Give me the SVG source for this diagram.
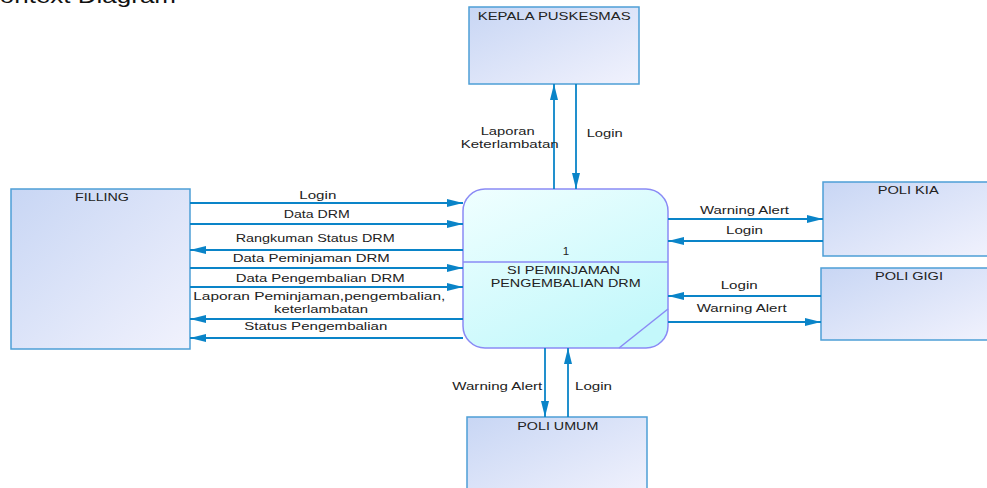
<svg xmlns="http://www.w3.org/2000/svg" width="987" height="488" viewBox="0 0 987 488">
<defs>
<linearGradient id="gEnt" x1="0" y1="0" x2="1" y2="1">
<stop offset="0" stop-color="#c8d6f4"/>
<stop offset="1" stop-color="#f1f2fd"/>
</linearGradient>
<linearGradient id="gProc" x1="0" y1="0" x2="0.6" y2="1">
<stop offset="0" stop-color="#f0ffff"/>
<stop offset="1" stop-color="#c4f8fb"/>
</linearGradient>
<marker id="arr" viewBox="0 0 16 8" refX="16" refY="4" markerWidth="16" markerHeight="8" orient="auto" markerUnits="userSpaceOnUse">
<path d="M0,0 L16,4 L0,8 Z" fill="#0a84c8"/>
</marker>
</defs>
<style>
.ent{fill:url(#gEnt);stroke:#4d9fd6;stroke-width:1.5}
.proc{fill:url(#gProc);stroke:#8a8af5;stroke-width:1.5}
.pl{stroke:#8a8af5;stroke-width:1.5;fill:none}
.c{stroke:#0a84c8;stroke-width:1.8;fill:none;marker-end:url(#arr)}
text{font-family:"Liberation Sans",Arial,sans-serif;font-size:11.5px;fill:#222}
.t{font-size:20px;fill:#111}
</style>
<text class="t" x="-19" y="3" textLength="195" lengthAdjust="spacingAndGlyphs">Context Diagram</text>

<g id="kepala">
<rect class="ent" x="469" y="7" width="170" height="77"/>
<text x="477.7" y="20" textLength="153" lengthAdjust="spacingAndGlyphs">KEPALA PUSKESMAS</text>
</g>
<g id="filling">
<rect class="ent" x="11" y="189" width="179" height="160"/>
<text x="75" y="201" textLength="54" lengthAdjust="spacingAndGlyphs">FILLING</text>
</g>
<g id="poli-kia">
<rect class="ent" x="823" y="182" width="170" height="74"/>
<text x="877.7" y="194" textLength="61" lengthAdjust="spacingAndGlyphs">POLI KIA</text>
</g>
<g id="poli-gigi">
<rect class="ent" x="821" y="268" width="170" height="72"/>
<text x="875" y="280" textLength="68" lengthAdjust="spacingAndGlyphs">POLI GIGI</text>
</g>
<g id="poli-umum">
<rect class="ent" x="467" y="417" width="180" height="80"/>
<text x="517.3" y="430" textLength="81" lengthAdjust="spacingAndGlyphs">POLI UMUM</text>
</g>
<g id="process">
<rect class="proc" x="463" y="189" width="205" height="159" rx="22" ry="22"/>
<line class="pl" x1="463" y1="262" x2="668" y2="262"/>
<line class="pl" x1="619" y1="348" x2="668" y2="309"/>
<text x="566" y="255" text-anchor="middle">1</text>
<text x="507" y="274" textLength="113" lengthAdjust="spacingAndGlyphs">SI PEMINJAMAN</text>
<text x="490.7" y="287" textLength="150" lengthAdjust="spacingAndGlyphs">PENGEMBALIAN DRM</text>
</g>

<g id="connectors">
<line class="c" x1="190" y1="203" x2="463" y2="203"/>
<line class="c" x1="190" y1="224" x2="463" y2="224"/>
<line class="c" x1="463" y1="250" x2="190" y2="250"/>
<line class="c" x1="190" y1="268" x2="463" y2="268"/>
<line class="c" x1="190" y1="287" x2="463" y2="287"/>
<line class="c" x1="463" y1="319" x2="190" y2="319"/>
<line class="c" x1="463" y1="338" x2="190" y2="338"/>
<line class="c" x1="554" y1="189" x2="554" y2="84"/>
<line class="c" x1="576" y1="84" x2="576" y2="189"/>
<line class="c" x1="668" y1="219" x2="823" y2="219"/>
<line class="c" x1="823" y1="241" x2="668" y2="241"/>
<line class="c" x1="821" y1="296" x2="668" y2="296"/>
<line class="c" x1="668" y1="322" x2="821" y2="322"/>
<line class="c" x1="545" y1="348" x2="545" y2="417"/>
<line class="c" x1="568" y1="417" x2="568" y2="348"/>
</g>
<g id="connector-labels">
<text x="299.3" y="199" textLength="37" lengthAdjust="spacingAndGlyphs">Login</text>
<text x="283.7" y="218" textLength="66" lengthAdjust="spacingAndGlyphs">Data DRM</text>
<text x="235.7" y="242" textLength="159" lengthAdjust="spacingAndGlyphs">Rangkuman Status DRM</text>
<text x="232.7" y="262" textLength="157" lengthAdjust="spacingAndGlyphs">Data Peminjaman DRM</text>
<text x="235.7" y="282" textLength="169" lengthAdjust="spacingAndGlyphs">Data Pengembalian DRM</text>
<text x="193.3" y="300" textLength="252" lengthAdjust="spacingAndGlyphs">Laporan Peminjaman,pengembalian,</text>
<text x="274" y="313" textLength="94" lengthAdjust="spacingAndGlyphs">keterlambatan</text>
<text x="244.3" y="330" textLength="143" lengthAdjust="spacingAndGlyphs">Status Pengembalian</text>
<text x="480.7" y="135" textLength="54" lengthAdjust="spacingAndGlyphs">Laporan</text>
<text x="460.7" y="148" textLength="98" lengthAdjust="spacingAndGlyphs">Keterlambatan</text>
<text x="586.7" y="137" textLength="36" lengthAdjust="spacingAndGlyphs">Login</text>
<text x="700" y="214" textLength="89" lengthAdjust="spacingAndGlyphs">Warning Alert</text>
<text x="726" y="234" textLength="37" lengthAdjust="spacingAndGlyphs">Login</text>
<text x="720.7" y="289" textLength="37" lengthAdjust="spacingAndGlyphs">Login</text>
<text x="696.7" y="312" textLength="90" lengthAdjust="spacingAndGlyphs">Warning Alert</text>
<text x="452.3" y="390" textLength="90" lengthAdjust="spacingAndGlyphs">Warning Alert</text>
<text x="575" y="390" textLength="37" lengthAdjust="spacingAndGlyphs">Login</text>
</g>
</svg>
